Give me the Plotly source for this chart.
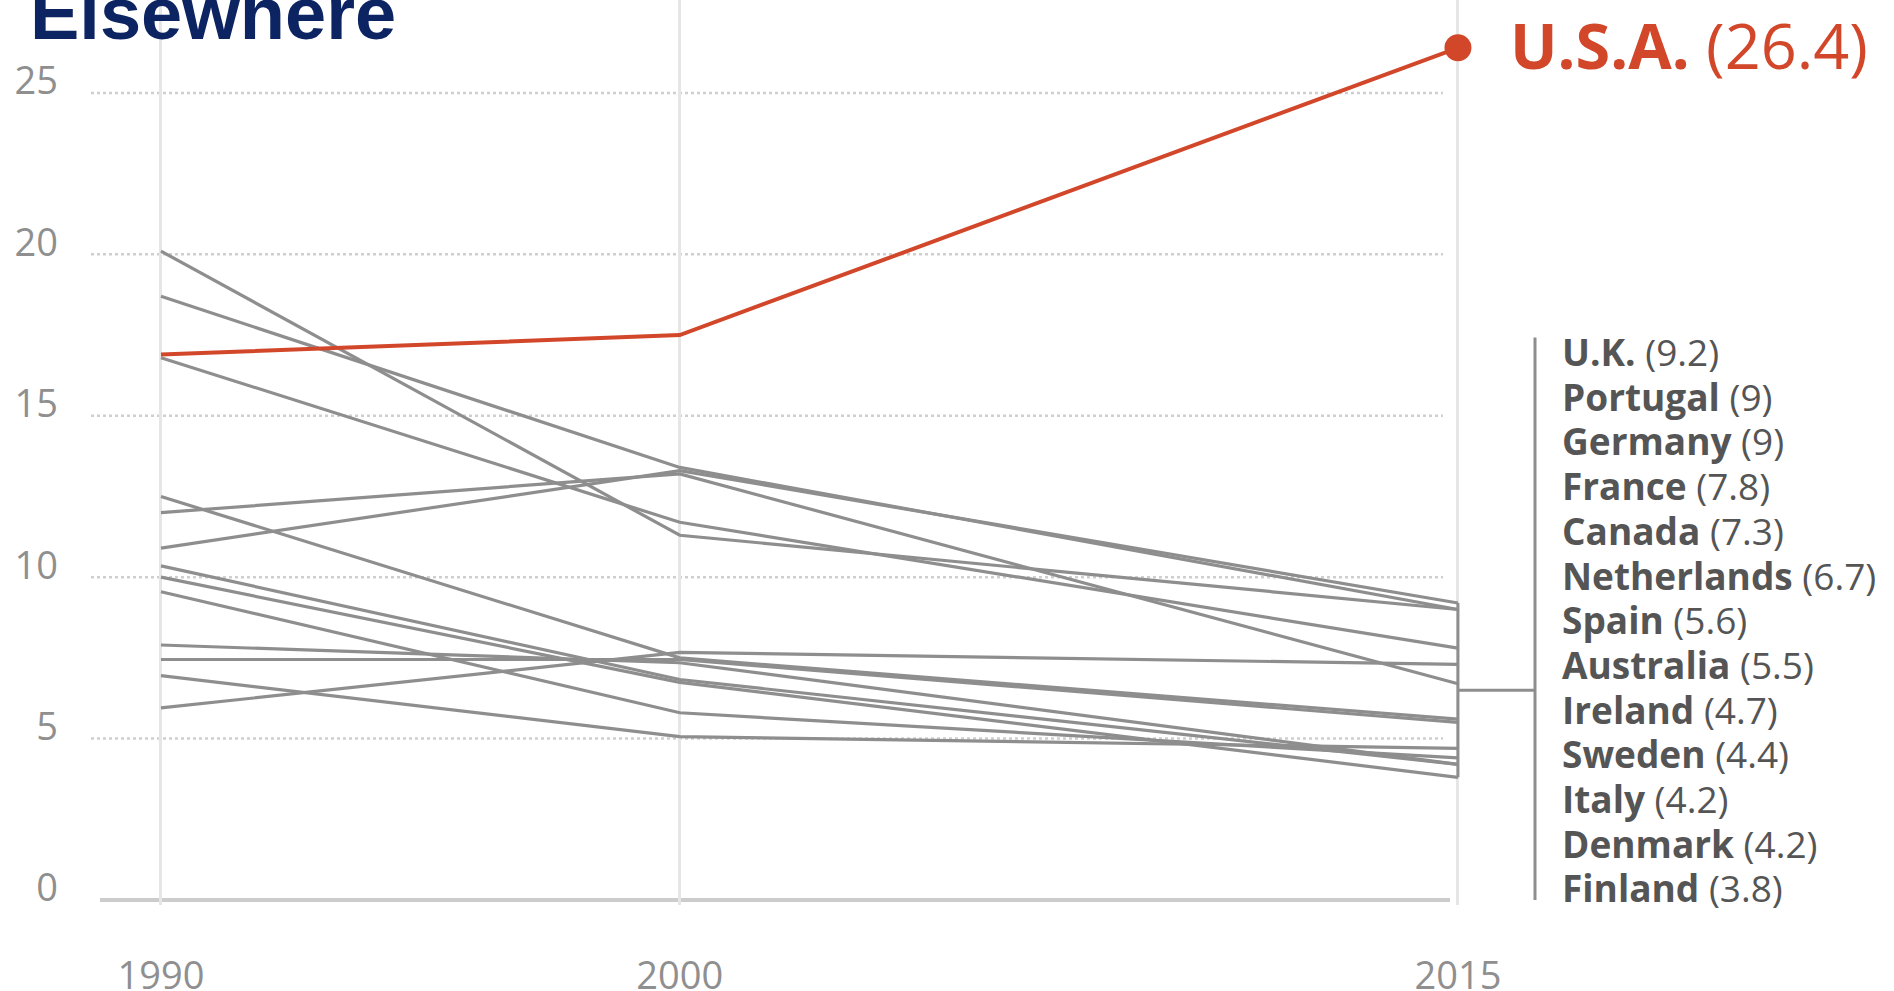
import plotly.graph_objects as go

# ---- data -------------------------------------------------------------
YEARS = [1990, 2000, 2015]

COUNTRIES = ["U.K.", "Portugal", "Germany", "France", "Canada", "Netherlands",
             "Spain", "Australia", "Ireland", "Sweden", "Italy", "Denmark", "Finland"]
RATE_1990 = [10.9, 18.7, 20.1, 16.8, 5.95, 12.0, 12.5, 7.45, 6.95, 9.55, 7.9, 10.35, 10.0]
RATE_2000 = [13.3, 13.4, 11.3, 11.7, 7.67, 13.2, 7.5, 7.45, 5.06, 5.8, 7.35, 6.83, 6.74]
RATE_2015 = [9.2, 9.0, 9.0, 7.8, 7.3, 6.7, 5.6, 5.5, 4.7, 4.4, 4.2, 4.2, 3.8]

USA_NAME = "U.S.A."
USA_RATE = [16.9, 17.5, 26.4]

Y_TICKS = [0, 5, 10, 15, 20, 25]
X_TICKS = [1990, 2000, 2015]
X_TICK_TEXT = ["1990", "2000", "2015"]
TITLE = "Elsewhere"

# ---- style --------------------------------------------------------------
W, H = 1894, 991
PLOT_L, PLOT_R, PLOT_T, PLOT_B = 91, 1480, 0, 905
XRANGE = [1988.651, 2015.425]
YRANGE = [-0.155, 27.88]

GRAY = "#8e8e8e"
RED = "#d2472a"
NAVY = "#0c2462"
TICK_GRAY = "#8f8f8f"
LABEL_GRAY = "#555555"
FONT = "Open Sans"


def paper_x(px):
    return (px - PLOT_L) / (PLOT_R - PLOT_L)


def paper_y(py):
    return (PLOT_B - py) / (PLOT_B - PLOT_T)


def data_to_px_y(v):
    return PLOT_B - (v - YRANGE[0]) / (YRANGE[1] - YRANGE[0]) * (PLOT_B - PLOT_T)


def data_to_paper_x(v):
    return (v - XRANGE[0]) / (XRANGE[1] - XRANGE[0])


def fmt(v):
    return f"{v:g}"


fig = go.Figure()

# grey country lines
for name, a, b, c in zip(COUNTRIES, RATE_1990, RATE_2000, RATE_2015):
    fig.add_trace(go.Scatter(
        x=YEARS, y=[a, b, c], mode="lines", name=name,
        line=dict(color=GRAY, width=3.2), hoverinfo="name+y", showlegend=False,
    ))

# U.S. line with end marker
fig.add_trace(go.Scatter(
    x=YEARS, y=USA_RATE, mode="lines", name=USA_NAME,
    line=dict(color=RED, width=4), showlegend=False,
))
fig.add_trace(go.Scatter(
    x=[YEARS[-1]], y=[USA_RATE[-1]], mode="markers", name=USA_NAME,
    marker=dict(color=RED, size=27), cliponaxis=False, showlegend=False,
))

shapes = []
# dotted horizontal gridlines
for t in Y_TICKS[1:]:
    shapes.append(dict(type="line", xref="paper", yref="y",
                       x0=0, x1=paper_x(1443), y0=t, y1=t,
                       line=dict(color="#cfcfcf", width=2.5, dash="dot"), layer="below"))
# baseline at zero
shapes.append(dict(type="line", xref="paper", yref="y",
                   x0=paper_x(100), x1=paper_x(1450), y0=0, y1=0,
                   line=dict(color="#cccccc", width=4), layer="below"))
# 2015 grey end bracket
shapes.append(dict(type="line", xref="x", yref="y",
                   x0=YEARS[-1], x1=YEARS[-1], y0=min(RATE_2015), y1=max(RATE_2015),
                   line=dict(color=GRAY, width=3)))
mid = (min(RATE_2015) + max(RATE_2015)) / 2
shapes.append(dict(type="line", xref="paper", yref="y",
                   x0=data_to_paper_x(YEARS[-1]), x1=paper_x(1535), y0=mid, y1=mid,
                   line=dict(color=GRAY, width=3)))

# label list on the right
LABEL_TOP_PX = 351.5
LABEL_STEP_PX = 44.7
annotations = []
for i, (name, v) in enumerate(zip(COUNTRIES, RATE_2015)):
    py = LABEL_TOP_PX + i * LABEL_STEP_PX
    annotations.append(dict(
        xref="paper", yref="paper", x=paper_x(1560), y=paper_y(py),
        xanchor="left", yanchor="middle", showarrow=False,
        text=f"<b>{name}</b> ({fmt(v)})",
        font=dict(family=FONT, size=37, color=LABEL_GRAY),
    ))
bracket_top = LABEL_TOP_PX - 14
bracket_bot = data_to_px_y(0)
shapes.append(dict(type="line", xref="paper", yref="paper",
                   x0=paper_x(1535), x1=paper_x(1535),
                   y0=paper_y(bracket_top), y1=paper_y(bracket_bot),
                   line=dict(color=GRAY, width=3)))

# U.S. label
annotations.append(dict(
    xref="paper", yref="y", x=paper_x(1508), y=USA_RATE[-1],
    xanchor="left", yanchor="middle", showarrow=False, yshift=3,
    text=f"<b>{USA_NAME}</b> ({fmt(USA_RATE[-1])})",
    font=dict(family=FONT, size=63, color=RED),
))

# headline, partly above the page edge
annotations.append(dict(
    xref="paper", yref="paper", x=paper_x(28), y=1,
    xanchor="left", yanchor="top", showarrow=False, yshift=30,
    text=f"<b>{TITLE}</b>",
    font=dict(family="Liberation Sans", size=74, color=NAVY),
))

fig.update_layout(
    width=W, height=H,
    margin=dict(l=PLOT_L, r=W - PLOT_R, t=PLOT_T, b=H - PLOT_B, pad=0),
    paper_bgcolor="white", plot_bgcolor="white",
    shapes=shapes, annotations=annotations,
    xaxis=dict(range=XRANGE, tickvals=X_TICKS, ticktext=X_TICK_TEXT,
               showgrid=True, gridcolor="#e6e6e6", gridwidth=2.5,
               zeroline=False, showline=False, ticks="", automargin=False,
               ticklabelstandoff=45,
               tickfont=dict(family=FONT, size=38, color=TICK_GRAY)),
    yaxis=dict(range=YRANGE, tickvals=Y_TICKS, showgrid=False,
               zeroline=False, showline=False, ticks="", automargin=False,
               ticklabelstandoff=32, ticklabelshift=-12,
               tickfont=dict(family=FONT, size=38, color=TICK_GRAY)),
)

fig.write_html("out.html")
